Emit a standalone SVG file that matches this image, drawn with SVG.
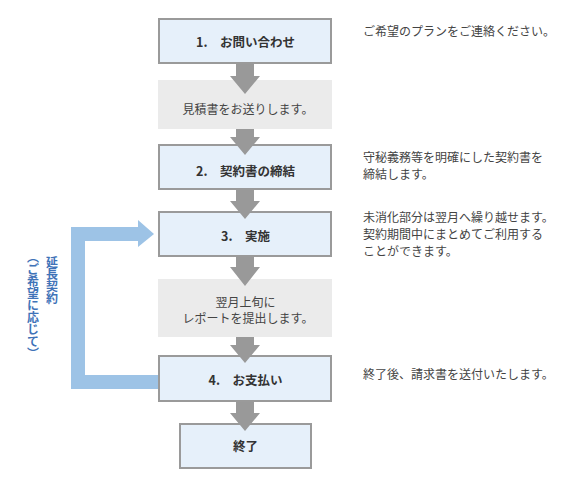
<svg xmlns="http://www.w3.org/2000/svg" width="567" height="489" viewBox="0 0 567 489">
<style>
text{font-family:"Noto Sans CJK JP","Noto Sans",sans-serif;}
.box{fill:#e6f0fa;stroke:#9a9a9a;stroke-width:2;}
.note{fill:#ebebeb;}
.lbl{font-size:12.5px;font-weight:bold;fill:#333;text-anchor:middle;}
.ntxt{font-size:12px;fill:#444;text-anchor:middle;}
.side{font-size:12px;fill:#444;}
.arr{fill:#999;}
.vt{font-size:12px;font-weight:bold;fill:#3f73b8;writing-mode:vertical-rl;}
</style>
<rect width="567" height="489" fill="#fff"/>
<g id="step1"><rect class="box" x="159" y="19" width="172" height="44"/><text class="lbl" x="245.5" y="47">1.　お問い合わせ</text></g>
<g id="note1"><rect class="note" x="158" y="80" width="174" height="49"/><text class="ntxt" x="248" y="113.5">見積書をお送りします。</text></g>
<g id="step2"><rect class="box" x="159" y="145" width="172" height="44"/><text class="lbl" x="245.5" y="176">2.　契約書の締結</text></g>
<g id="step3"><rect class="box" x="159" y="212" width="172" height="44"/><text class="lbl" x="245.5" y="240.5">3.　実施</text></g>
<g id="note2"><rect class="note" x="158" y="279" width="174" height="58"/><text class="ntxt" x="245.5" y="306.5">翌月上旬に</text><text class="ntxt" x="248" y="322.5">レポートを提出します。</text></g>
<g id="step4"><rect class="box" x="159" y="356" width="172" height="45"/><text class="lbl" x="245.5" y="384.5">4.　お支払い</text></g>
<g id="end"><rect class="box" x="180" y="424" width="131" height="44"/><text class="lbl" x="245.5" y="450.5">終了</text></g>
<g id="connectors">
<polygon class="arr" points="236,64 254,64 254,76 260,76 245,94 230,76 236,76"/>
<polygon class="arr" points="236,129 254,129 254,137 260,137 245,155 230,137 236,137"/>
<polygon class="arr" points="236,190 254,190 254,201 260,201 245,219 230,201 236,201"/>
<polygon class="arr" points="236,257 254,257 254,267 260,267 245,286 230,267 236,267"/>
<polygon class="arr" points="236,337 254,337 254,345 260,345 245,363 230,345 236,345"/>
<polygon class="arr" points="236,402 254,402 254,413 260,413 245,431 230,413 236,413"/>
<polygon fill="#9dc3e6" points="158,375 85,375 85,241 138,241 138,247 154,234 138,220 138,227 71,227 71,389 158,389"/>
</g>
<g id="loop-label">
<text class="vt" x="52" y="256">延長契約</text>
<text class="vt" x="33" y="251">（ご希望に応じて）</text>
</g>
<g id="notes-right">
<text class="side" x="363" y="36">ご希望のプランをご連絡ください。</text>
<text class="side" x="363" y="161.5">守秘義務等を明確にした契約書を</text>
<text class="side" x="363" y="178.5">締結します。</text>
<text class="side" x="363" y="221.5">未消化部分は翌月へ繰り越せます。</text>
<text class="side" x="363" y="238.5">契約期間中にまとめてご利用する</text>
<text class="side" x="363" y="255.5">ことができます。</text>
<text class="side" x="363" y="379">終了後、請求書を送付いたします。</text>
</g>
</svg>
